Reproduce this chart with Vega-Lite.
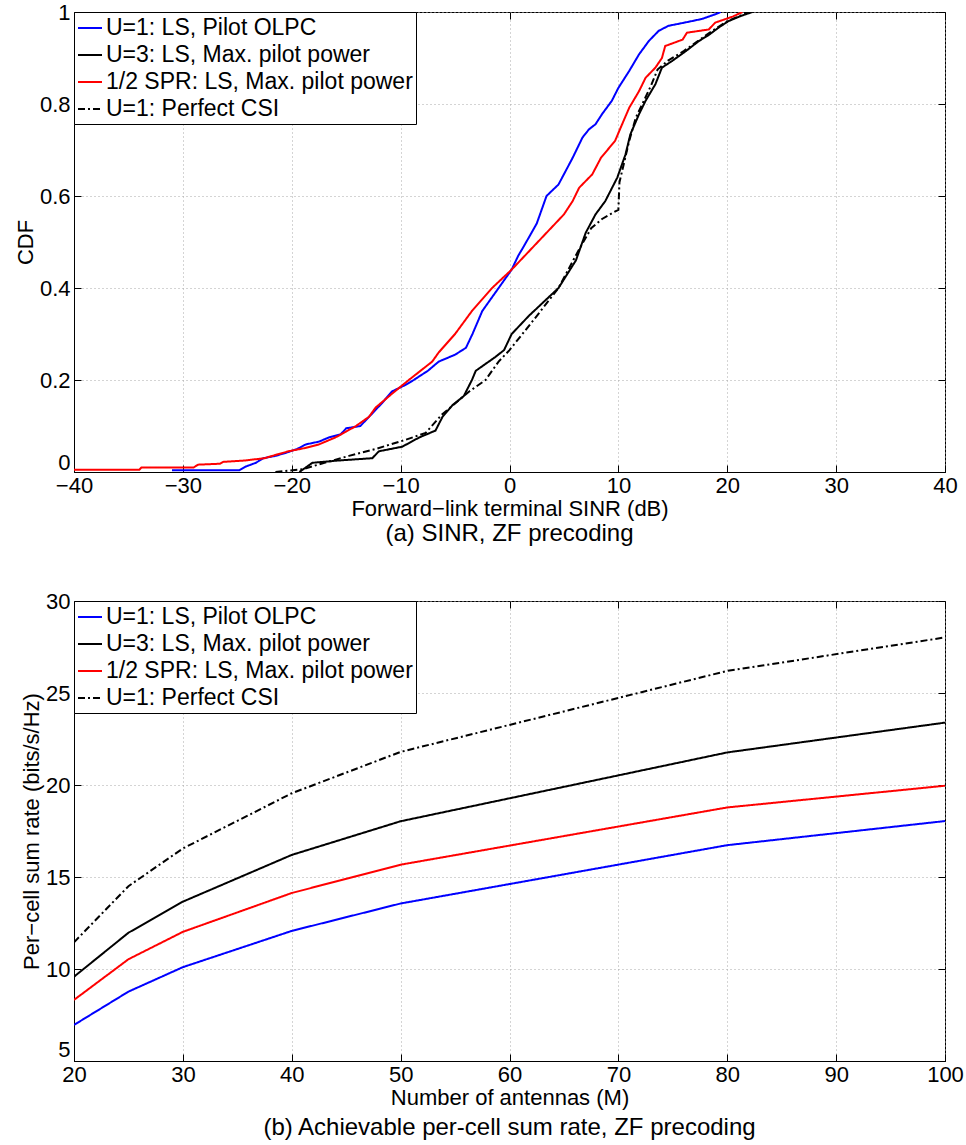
{
  "$schema": "https://vega.github.io/schema/vega-lite/v6.json",
  "background": "white",
  "padding": {"left": 13, "top": 0, "right": 5, "bottom": 0},
  "spacing": 42,
  "config": {
    "font": "Liberation Sans",
    "view": {"stroke": "#000000", "strokeWidth": 1},
    "axis": {
      "labelFont": "Liberation Sans",
      "titleFont": "Liberation Sans",
      "labelFontSize": 22,
      "titleFontSize": 22,
      "titleFontWeight": "normal",
      "labelColor": "#000000",
      "titleColor": "#000000",
      "labelFlush": false,
      "labelOverlap": false,
      "domainColor": "#000000",
      "domainWidth": 1,
      "tickColor": "#000000",
      "tickSize": -7,
      "labelPadding": 11,
      "titlePadding": 2,
      "gridColor": "#a8a8a8",
      "gridDash": [1, 3],
      "gridWidth": 1
    },
    "legend": {
      "orient": "top-left",
      "offset": 0,
      "strokeColor": "#000000",
      "fillColor": "#ffffff",
      "padding": 3,
      "labelFont": "Liberation Sans",
      "labelFontSize": 23,
      "labelColor": "#000000",
      "labelLimit": 0,
      "labelOffset": 3,
      "symbolType": "stroke",
      "symbolSize": 576,
      "symbolStrokeWidth": 2,
      "rowPadding": 2
    },
    "title": {
      "font": "Liberation Sans",
      "fontSize": 24,
      "fontWeight": "normal",
      "color": "#000000"
    }
  },
  "datasets": {
    "cdf": [
      {"scheme": "U=1: LS, Pilot OLPC", "sinr": -31, "cdf": 0.004},
      {"scheme": "U=1: LS, Pilot OLPC", "sinr": -24.8, "cdf": 0.004},
      {"scheme": "U=1: LS, Pilot OLPC", "sinr": -24.2, "cdf": 0.012},
      {"scheme": "U=1: LS, Pilot OLPC", "sinr": -23.3, "cdf": 0.02},
      {"scheme": "U=1: LS, Pilot OLPC", "sinr": -22.6, "cdf": 0.03},
      {"scheme": "U=1: LS, Pilot OLPC", "sinr": -21.5, "cdf": 0.035},
      {"scheme": "U=1: LS, Pilot OLPC", "sinr": -20.5, "cdf": 0.042},
      {"scheme": "U=1: LS, Pilot OLPC", "sinr": -19.5, "cdf": 0.05},
      {"scheme": "U=1: LS, Pilot OLPC", "sinr": -18.7, "cdf": 0.06},
      {"scheme": "U=1: LS, Pilot OLPC", "sinr": -17.5, "cdf": 0.066},
      {"scheme": "U=1: LS, Pilot OLPC", "sinr": -16.6, "cdf": 0.075},
      {"scheme": "U=1: LS, Pilot OLPC", "sinr": -15.5, "cdf": 0.082},
      {"scheme": "U=1: LS, Pilot OLPC", "sinr": -15.0, "cdf": 0.095},
      {"scheme": "U=1: LS, Pilot OLPC", "sinr": -13.7, "cdf": 0.1},
      {"scheme": "U=1: LS, Pilot OLPC", "sinr": -12.9, "cdf": 0.12},
      {"scheme": "U=1: LS, Pilot OLPC", "sinr": -11.7, "cdf": 0.15},
      {"scheme": "U=1: LS, Pilot OLPC", "sinr": -10.8, "cdf": 0.175},
      {"scheme": "U=1: LS, Pilot OLPC", "sinr": -9.5, "cdf": 0.19},
      {"scheme": "U=1: LS, Pilot OLPC", "sinr": -8.8, "cdf": 0.2},
      {"scheme": "U=1: LS, Pilot OLPC", "sinr": -7.5, "cdf": 0.22},
      {"scheme": "U=1: LS, Pilot OLPC", "sinr": -6.5, "cdf": 0.24},
      {"scheme": "U=1: LS, Pilot OLPC", "sinr": -5.0, "cdf": 0.255},
      {"scheme": "U=1: LS, Pilot OLPC", "sinr": -4.0, "cdf": 0.27},
      {"scheme": "U=1: LS, Pilot OLPC", "sinr": -3.4, "cdf": 0.3},
      {"scheme": "U=1: LS, Pilot OLPC", "sinr": -2.5, "cdf": 0.35},
      {"scheme": "U=1: LS, Pilot OLPC", "sinr": -1.0, "cdf": 0.4},
      {"scheme": "U=1: LS, Pilot OLPC", "sinr": 0.2, "cdf": 0.44},
      {"scheme": "U=1: LS, Pilot OLPC", "sinr": 0.8, "cdf": 0.47},
      {"scheme": "U=1: LS, Pilot OLPC", "sinr": 1.3, "cdf": 0.49},
      {"scheme": "U=1: LS, Pilot OLPC", "sinr": 2.5, "cdf": 0.54},
      {"scheme": "U=1: LS, Pilot OLPC", "sinr": 3.4, "cdf": 0.6},
      {"scheme": "U=1: LS, Pilot OLPC", "sinr": 4.5, "cdf": 0.625},
      {"scheme": "U=1: LS, Pilot OLPC", "sinr": 5.15, "cdf": 0.654},
      {"scheme": "U=1: LS, Pilot OLPC", "sinr": 5.8, "cdf": 0.683},
      {"scheme": "U=1: LS, Pilot OLPC", "sinr": 6.7, "cdf": 0.727},
      {"scheme": "U=1: LS, Pilot OLPC", "sinr": 7.3, "cdf": 0.745},
      {"scheme": "U=1: LS, Pilot OLPC", "sinr": 7.9, "cdf": 0.756},
      {"scheme": "U=1: LS, Pilot OLPC", "sinr": 8.5, "cdf": 0.778},
      {"scheme": "U=1: LS, Pilot OLPC", "sinr": 9.4, "cdf": 0.807},
      {"scheme": "U=1: LS, Pilot OLPC", "sinr": 10.0, "cdf": 0.835},
      {"scheme": "U=1: LS, Pilot OLPC", "sinr": 11.0, "cdf": 0.872},
      {"scheme": "U=1: LS, Pilot OLPC", "sinr": 11.9, "cdf": 0.908},
      {"scheme": "U=1: LS, Pilot OLPC", "sinr": 12.8, "cdf": 0.937},
      {"scheme": "U=1: LS, Pilot OLPC", "sinr": 13.7, "cdf": 0.959},
      {"scheme": "U=1: LS, Pilot OLPC", "sinr": 14.6, "cdf": 0.97},
      {"scheme": "U=1: LS, Pilot OLPC", "sinr": 16.1, "cdf": 0.977},
      {"scheme": "U=1: LS, Pilot OLPC", "sinr": 17.7, "cdf": 0.985},
      {"scheme": "U=1: LS, Pilot OLPC", "sinr": 18.9, "cdf": 0.995},
      {"scheme": "U=1: LS, Pilot OLPC", "sinr": 19.4, "cdf": 1.0},

      {"scheme": "U=3: LS, Max. pilot power", "sinr": -19.3, "cdf": 0.0},
      {"scheme": "U=3: LS, Max. pilot power", "sinr": -18.1, "cdf": 0.02},
      {"scheme": "U=3: LS, Max. pilot power", "sinr": -15.7, "cdf": 0.025},
      {"scheme": "U=3: LS, Max. pilot power", "sinr": -12.6, "cdf": 0.03},
      {"scheme": "U=3: LS, Max. pilot power", "sinr": -12.0, "cdf": 0.045},
      {"scheme": "U=3: LS, Max. pilot power", "sinr": -9.85, "cdf": 0.055},
      {"scheme": "U=3: LS, Max. pilot power", "sinr": -8.3, "cdf": 0.075},
      {"scheme": "U=3: LS, Max. pilot power", "sinr": -6.8, "cdf": 0.09},
      {"scheme": "U=3: LS, Max. pilot power", "sinr": -6.15, "cdf": 0.12},
      {"scheme": "U=3: LS, Max. pilot power", "sinr": -5.25, "cdf": 0.145},
      {"scheme": "U=3: LS, Max. pilot power", "sinr": -4.2, "cdf": 0.165},
      {"scheme": "U=3: LS, Max. pilot power", "sinr": -3.45, "cdf": 0.2},
      {"scheme": "U=3: LS, Max. pilot power", "sinr": -3.1, "cdf": 0.22},
      {"scheme": "U=3: LS, Max. pilot power", "sinr": -1.3, "cdf": 0.25},
      {"scheme": "U=3: LS, Max. pilot power", "sinr": -0.5, "cdf": 0.265},
      {"scheme": "U=3: LS, Max. pilot power", "sinr": 0.2, "cdf": 0.3},
      {"scheme": "U=3: LS, Max. pilot power", "sinr": 1.8, "cdf": 0.34},
      {"scheme": "U=3: LS, Max. pilot power", "sinr": 3.6, "cdf": 0.38},
      {"scheme": "U=3: LS, Max. pilot power", "sinr": 4.5, "cdf": 0.4},
      {"scheme": "U=3: LS, Max. pilot power", "sinr": 6.1, "cdf": 0.46},
      {"scheme": "U=3: LS, Max. pilot power", "sinr": 7.0, "cdf": 0.52},
      {"scheme": "U=3: LS, Max. pilot power", "sinr": 7.9, "cdf": 0.56},
      {"scheme": "U=3: LS, Max. pilot power", "sinr": 8.8, "cdf": 0.589},
      {"scheme": "U=3: LS, Max. pilot power", "sinr": 9.9, "cdf": 0.64},
      {"scheme": "U=3: LS, Max. pilot power", "sinr": 10.65, "cdf": 0.69},
      {"scheme": "U=3: LS, Max. pilot power", "sinr": 11.1, "cdf": 0.734},
      {"scheme": "U=3: LS, Max. pilot power", "sinr": 11.9, "cdf": 0.778},
      {"scheme": "U=3: LS, Max. pilot power", "sinr": 12.5, "cdf": 0.807},
      {"scheme": "U=3: LS, Max. pilot power", "sinr": 13.4, "cdf": 0.843},
      {"scheme": "U=3: LS, Max. pilot power", "sinr": 14.0, "cdf": 0.879},
      {"scheme": "U=3: LS, Max. pilot power", "sinr": 14.9, "cdf": 0.893},
      {"scheme": "U=3: LS, Max. pilot power", "sinr": 16.2, "cdf": 0.915},
      {"scheme": "U=3: LS, Max. pilot power", "sinr": 17.4, "cdf": 0.937},
      {"scheme": "U=3: LS, Max. pilot power", "sinr": 18.3, "cdf": 0.95},
      {"scheme": "U=3: LS, Max. pilot power", "sinr": 19.2, "cdf": 0.966},
      {"scheme": "U=3: LS, Max. pilot power", "sinr": 20.1, "cdf": 0.98},
      {"scheme": "U=3: LS, Max. pilot power", "sinr": 21.1, "cdf": 0.99},
      {"scheme": "U=3: LS, Max. pilot power", "sinr": 22.3, "cdf": 1.0},

      {"scheme": "1/2 SPR: LS, Max. pilot power", "sinr": -40, "cdf": 0.005},
      {"scheme": "1/2 SPR: LS, Max. pilot power", "sinr": -34.0, "cdf": 0.005},
      {"scheme": "1/2 SPR: LS, Max. pilot power", "sinr": -33.8, "cdf": 0.01},
      {"scheme": "1/2 SPR: LS, Max. pilot power", "sinr": -29.0, "cdf": 0.01},
      {"scheme": "1/2 SPR: LS, Max. pilot power", "sinr": -28.6, "cdf": 0.016},
      {"scheme": "1/2 SPR: LS, Max. pilot power", "sinr": -26.6, "cdf": 0.018},
      {"scheme": "1/2 SPR: LS, Max. pilot power", "sinr": -26.3, "cdf": 0.022},
      {"scheme": "1/2 SPR: LS, Max. pilot power", "sinr": -24.3, "cdf": 0.025},
      {"scheme": "1/2 SPR: LS, Max. pilot power", "sinr": -22.5, "cdf": 0.03},
      {"scheme": "1/2 SPR: LS, Max. pilot power", "sinr": -21.5, "cdf": 0.037},
      {"scheme": "1/2 SPR: LS, Max. pilot power", "sinr": -20.3, "cdf": 0.045},
      {"scheme": "1/2 SPR: LS, Max. pilot power", "sinr": -18.8, "cdf": 0.052},
      {"scheme": "1/2 SPR: LS, Max. pilot power", "sinr": -17.5, "cdf": 0.06},
      {"scheme": "1/2 SPR: LS, Max. pilot power", "sinr": -16.0, "cdf": 0.075},
      {"scheme": "1/2 SPR: LS, Max. pilot power", "sinr": -15.0, "cdf": 0.088},
      {"scheme": "1/2 SPR: LS, Max. pilot power", "sinr": -14.1, "cdf": 0.1},
      {"scheme": "1/2 SPR: LS, Max. pilot power", "sinr": -12.9, "cdf": 0.12},
      {"scheme": "1/2 SPR: LS, Max. pilot power", "sinr": -12.3, "cdf": 0.14},
      {"scheme": "1/2 SPR: LS, Max. pilot power", "sinr": -10.8, "cdf": 0.17},
      {"scheme": "1/2 SPR: LS, Max. pilot power", "sinr": -9.25, "cdf": 0.2},
      {"scheme": "1/2 SPR: LS, Max. pilot power", "sinr": -7.1, "cdf": 0.24},
      {"scheme": "1/2 SPR: LS, Max. pilot power", "sinr": -6.5, "cdf": 0.26},
      {"scheme": "1/2 SPR: LS, Max. pilot power", "sinr": -5.0, "cdf": 0.3},
      {"scheme": "1/2 SPR: LS, Max. pilot power", "sinr": -3.45, "cdf": 0.35},
      {"scheme": "1/2 SPR: LS, Max. pilot power", "sinr": -1.6, "cdf": 0.4},
      {"scheme": "1/2 SPR: LS, Max. pilot power", "sinr": 0.2, "cdf": 0.44},
      {"scheme": "1/2 SPR: LS, Max. pilot power", "sinr": 1.8, "cdf": 0.48},
      {"scheme": "1/2 SPR: LS, Max. pilot power", "sinr": 3.8, "cdf": 0.53},
      {"scheme": "1/2 SPR: LS, Max. pilot power", "sinr": 5.0, "cdf": 0.56},
      {"scheme": "1/2 SPR: LS, Max. pilot power", "sinr": 5.8, "cdf": 0.589},
      {"scheme": "1/2 SPR: LS, Max. pilot power", "sinr": 6.4, "cdf": 0.618},
      {"scheme": "1/2 SPR: LS, Max. pilot power", "sinr": 7.6, "cdf": 0.647},
      {"scheme": "1/2 SPR: LS, Max. pilot power", "sinr": 8.4, "cdf": 0.683},
      {"scheme": "1/2 SPR: LS, Max. pilot power", "sinr": 9.7, "cdf": 0.72},
      {"scheme": "1/2 SPR: LS, Max. pilot power", "sinr": 10.2, "cdf": 0.748},
      {"scheme": "1/2 SPR: LS, Max. pilot power", "sinr": 11.0, "cdf": 0.792},
      {"scheme": "1/2 SPR: LS, Max. pilot power", "sinr": 11.9, "cdf": 0.828},
      {"scheme": "1/2 SPR: LS, Max. pilot power", "sinr": 12.5, "cdf": 0.857},
      {"scheme": "1/2 SPR: LS, Max. pilot power", "sinr": 13.4, "cdf": 0.879},
      {"scheme": "1/2 SPR: LS, Max. pilot power", "sinr": 14.0, "cdf": 0.9},
      {"scheme": "1/2 SPR: LS, Max. pilot power", "sinr": 14.3, "cdf": 0.926},
      {"scheme": "1/2 SPR: LS, Max. pilot power", "sinr": 15.9, "cdf": 0.94},
      {"scheme": "1/2 SPR: LS, Max. pilot power", "sinr": 16.3, "cdf": 0.955},
      {"scheme": "1/2 SPR: LS, Max. pilot power", "sinr": 18.3, "cdf": 0.962},
      {"scheme": "1/2 SPR: LS, Max. pilot power", "sinr": 18.9, "cdf": 0.977},
      {"scheme": "1/2 SPR: LS, Max. pilot power", "sinr": 20.5, "cdf": 0.99},
      {"scheme": "1/2 SPR: LS, Max. pilot power", "sinr": 21.4, "cdf": 1.0},

      {"scheme": "U=1: Perfect CSI", "sinr": -21.5, "cdf": 0.0},
      {"scheme": "U=1: Perfect CSI", "sinr": -19.0, "cdf": 0.006},
      {"scheme": "U=1: Perfect CSI", "sinr": -17.0, "cdf": 0.02},
      {"scheme": "U=1: Perfect CSI", "sinr": -14.75, "cdf": 0.035},
      {"scheme": "U=1: Perfect CSI", "sinr": -12.3, "cdf": 0.05},
      {"scheme": "U=1: Perfect CSI", "sinr": -9.55, "cdf": 0.07},
      {"scheme": "U=1: Perfect CSI", "sinr": -7.7, "cdf": 0.085},
      {"scheme": "U=1: Perfect CSI", "sinr": -6.2, "cdf": 0.125},
      {"scheme": "U=1: Perfect CSI", "sinr": -3.7, "cdf": 0.175},
      {"scheme": "U=1: Perfect CSI", "sinr": -2.2, "cdf": 0.2},
      {"scheme": "U=1: Perfect CSI", "sinr": -1.0, "cdf": 0.24},
      {"scheme": "U=1: Perfect CSI", "sinr": 0.0, "cdf": 0.265},
      {"scheme": "U=1: Perfect CSI", "sinr": 2.2, "cdf": 0.33},
      {"scheme": "U=1: Perfect CSI", "sinr": 4.5, "cdf": 0.4},
      {"scheme": "U=1: Perfect CSI", "sinr": 6.3, "cdf": 0.48},
      {"scheme": "U=1: Perfect CSI", "sinr": 7.5, "cdf": 0.53},
      {"scheme": "U=1: Perfect CSI", "sinr": 8.5, "cdf": 0.55},
      {"scheme": "U=1: Perfect CSI", "sinr": 9.6, "cdf": 0.565},
      {"scheme": "U=1: Perfect CSI", "sinr": 10.0, "cdf": 0.57},
      {"scheme": "U=1: Perfect CSI", "sinr": 10.1, "cdf": 0.63},
      {"scheme": "U=1: Perfect CSI", "sinr": 10.6, "cdf": 0.68},
      {"scheme": "U=1: Perfect CSI", "sinr": 11.0, "cdf": 0.72},
      {"scheme": "U=1: Perfect CSI", "sinr": 11.6, "cdf": 0.77},
      {"scheme": "U=1: Perfect CSI", "sinr": 12.2, "cdf": 0.8},
      {"scheme": "U=1: Perfect CSI", "sinr": 13.0, "cdf": 0.84},
      {"scheme": "U=1: Perfect CSI", "sinr": 13.6, "cdf": 0.875},
      {"scheme": "U=1: Perfect CSI", "sinr": 14.6, "cdf": 0.895},
      {"scheme": "U=1: Perfect CSI", "sinr": 16.0, "cdf": 0.915},
      {"scheme": "U=1: Perfect CSI", "sinr": 17.2, "cdf": 0.935},
      {"scheme": "U=1: Perfect CSI", "sinr": 18.2, "cdf": 0.952},
      {"scheme": "U=1: Perfect CSI", "sinr": 19.2, "cdf": 0.968},
      {"scheme": "U=1: Perfect CSI", "sinr": 20.0, "cdf": 0.98},
      {"scheme": "U=1: Perfect CSI", "sinr": 21.0, "cdf": 0.99},
      {"scheme": "U=1: Perfect CSI", "sinr": 22.0, "cdf": 1.0}
    ],
    "rate": [
      {"scheme": "U=1: LS, Pilot OLPC", "antennas": 20, "rate": 6.96},
      {"scheme": "U=1: LS, Pilot OLPC", "antennas": 25, "rate": 8.77},
      {"scheme": "U=1: LS, Pilot OLPC", "antennas": 30, "rate": 10.1},
      {"scheme": "U=1: LS, Pilot OLPC", "antennas": 40, "rate": 12.07},
      {"scheme": "U=1: LS, Pilot OLPC", "antennas": 50, "rate": 13.56},
      {"scheme": "U=1: LS, Pilot OLPC", "antennas": 80, "rate": 16.73},
      {"scheme": "U=1: LS, Pilot OLPC", "antennas": 100, "rate": 18.04},
      {"scheme": "U=3: LS, Max. pilot power", "antennas": 20, "rate": 9.58},
      {"scheme": "U=3: LS, Max. pilot power", "antennas": 25, "rate": 11.97},
      {"scheme": "U=3: LS, Max. pilot power", "antennas": 30, "rate": 13.66},
      {"scheme": "U=3: LS, Max. pilot power", "antennas": 40, "rate": 16.2},
      {"scheme": "U=3: LS, Max. pilot power", "antennas": 50, "rate": 18.03},
      {"scheme": "U=3: LS, Max. pilot power", "antennas": 80, "rate": 21.77},
      {"scheme": "U=3: LS, Max. pilot power", "antennas": 100, "rate": 23.39},
      {"scheme": "1/2 SPR: LS, Max. pilot power", "antennas": 20, "rate": 8.32},
      {"scheme": "1/2 SPR: LS, Max. pilot power", "antennas": 25, "rate": 10.53},
      {"scheme": "1/2 SPR: LS, Max. pilot power", "antennas": 30, "rate": 12.02},
      {"scheme": "1/2 SPR: LS, Max. pilot power", "antennas": 40, "rate": 14.13},
      {"scheme": "1/2 SPR: LS, Max. pilot power", "antennas": 50, "rate": 15.67},
      {"scheme": "1/2 SPR: LS, Max. pilot power", "antennas": 80, "rate": 18.78},
      {"scheme": "1/2 SPR: LS, Max. pilot power", "antennas": 100, "rate": 19.96},
      {"scheme": "U=1: Perfect CSI", "antennas": 20, "rate": 11.45},
      {"scheme": "U=1: Perfect CSI", "antennas": 25, "rate": 14.5},
      {"scheme": "U=1: Perfect CSI", "antennas": 30, "rate": 16.55},
      {"scheme": "U=1: Perfect CSI", "antennas": 40, "rate": 19.55},
      {"scheme": "U=1: Perfect CSI", "antennas": 50, "rate": 21.8},
      {"scheme": "U=1: Perfect CSI", "antennas": 80, "rate": 26.2},
      {"scheme": "U=1: Perfect CSI", "antennas": 100, "rate": 28.02}
    ]
  },
  "vconcat": [
    {
      "width": 871,
      "height": 460,
      "data": {"name": "cdf"},
      "title": {"text": "(a) SINR, ZF precoding", "orient": "bottom", "offset": 3},
      "layer": [
        {
          "mark": {"type": "line", "strokeWidth": 2, "clip": true},
          "encoding": {
            "x": {
              "field": "sinr", "type": "quantitative",
              "scale": {"domain": [-40, 40], "nice": false, "zero": false},
              "axis": {"title": "Forward\u2212link terminal SINR (dB)", "labelPadding": 10, "titlePadding": 2, "values": [-40, -30, -20, -10, 0, 10, 20, 30, 40], "grid": true}
            },
            "y": {
              "field": "cdf", "type": "quantitative",
              "scale": {"domain": [0, 1], "nice": false},
              "axis": {
                "title": "CDF",
                "values": [0, 0.2, 0.4, 0.6, 0.8, 1],
                "format": "~g",
                "grid": true,
                "labelOffset": {"condition": {"test": "datum.value == 0", "value": -10}, "value": 0}
              }
            },
            "color": {
              "field": "scheme", "type": "nominal",
              "scale": {
                "domain": ["U=1: LS, Pilot OLPC", "U=3: LS, Max. pilot power", "1/2 SPR: LS, Max. pilot power", "U=1: Perfect CSI"],
                "range": ["#0000ff", "#000000", "#ff0000", "#000000"]
              },
              "legend": {"title": null}
            },
            "strokeDash": {
              "field": "scheme", "type": "nominal",
              "scale": {
                "domain": ["U=1: LS, Pilot OLPC", "U=3: LS, Max. pilot power", "1/2 SPR: LS, Max. pilot power", "U=1: Perfect CSI"],
                "range": [[1, 0], [1, 0], [1, 0], [7, 3, 2, 3]]
              },
              "legend": {"title": null}
            }
          }
        },
        {
          "mark": {"type": "point", "opacity": 0, "size": 0},
          "encoding": {
            "x": {
              "field": "sinr", "type": "quantitative",
              "axis": {"orient": "top", "values": [-40, -30, -20, -10, 0, 10, 20, 30, 40], "labels": false, "domain": false, "grid": false, "title": null}
            },
            "y": {
              "field": "cdf", "type": "quantitative",
              "axis": {"orient": "right", "values": [0, 0.2, 0.4, 0.6, 0.8, 1], "labels": false, "domain": false, "grid": false, "title": null}
            }
          }
        }
      ],
      "resolve": {"axis": {"x": "independent", "y": "independent"}}
    },
    {
      "width": 871,
      "height": 460,
      "data": {"name": "rate"},
      "title": {"text": "(b) Achievable per-cell sum rate, ZF precoding", "orient": "bottom", "offset": 8},
      "layer": [
        {
          "mark": {"type": "line", "strokeWidth": 2, "clip": true},
          "encoding": {
            "x": {
              "field": "antennas", "type": "quantitative",
              "scale": {"domain": [20, 100], "nice": false, "zero": false},
              "axis": {"title": "Number of antennas (M)", "labelPadding": 10, "titlePadding": 2, "values": [20, 30, 40, 50, 60, 70, 80, 90, 100], "grid": true}
            },
            "y": {
              "field": "rate", "type": "quantitative",
              "scale": {"domain": [5, 30], "nice": false, "zero": false},
              "axis": {
                "title": "Per\u2212cell sum rate (bits/s/Hz)",
                "values": [5, 10, 15, 20, 25, 30],
                "grid": true,
                "labelOffset": {"condition": {"test": "datum.value == 5", "value": -12}, "value": 0}
              }
            },
            "color": {
              "field": "scheme", "type": "nominal",
              "scale": {
                "domain": ["U=1: LS, Pilot OLPC", "U=3: LS, Max. pilot power", "1/2 SPR: LS, Max. pilot power", "U=1: Perfect CSI"],
                "range": ["#0000ff", "#000000", "#ff0000", "#000000"]
              },
              "legend": {"title": null}
            },
            "strokeDash": {
              "field": "scheme", "type": "nominal",
              "scale": {
                "domain": ["U=1: LS, Pilot OLPC", "U=3: LS, Max. pilot power", "1/2 SPR: LS, Max. pilot power", "U=1: Perfect CSI"],
                "range": [[1, 0], [1, 0], [1, 0], [7, 3, 2, 3]]
              },
              "legend": {"title": null}
            }
          }
        },
        {
          "mark": {"type": "point", "opacity": 0, "size": 0},
          "encoding": {
            "x": {
              "field": "antennas", "type": "quantitative",
              "axis": {"orient": "top", "values": [20, 30, 40, 50, 60, 70, 80, 90, 100], "labels": false, "domain": false, "grid": false, "title": null}
            },
            "y": {
              "field": "rate", "type": "quantitative",
              "axis": {"orient": "right", "values": [5, 10, 15, 20, 25, 30], "labels": false, "domain": false, "grid": false, "title": null}
            }
          }
        }
      ],
      "resolve": {"axis": {"x": "independent", "y": "independent"}}
    }
  ],
  "resolve": {"scale": {"color": "independent", "strokeDash": "independent"}}
}
